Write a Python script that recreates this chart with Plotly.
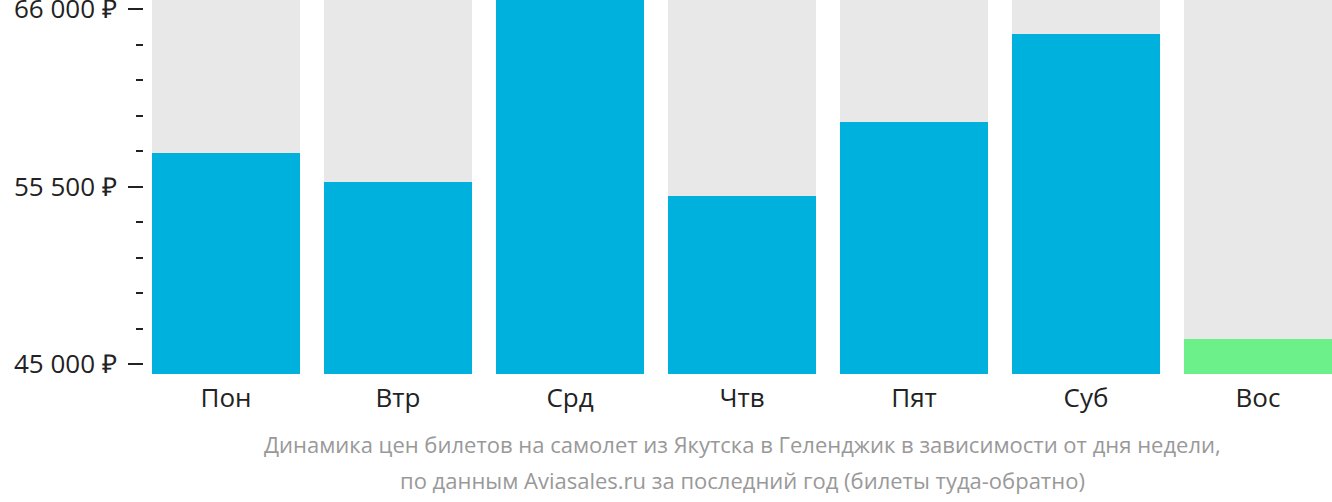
import plotly.graph_objects as go

days = ["Пон", "Втр", "Срд", "Чтв", "Пят", "Суб", "Вос"]
prices = [57490, 55775, 66530, 54950, 59320, 64520, 46495]
y_min = 44427
y_max = 66530
major_ticks = [45000, 55500, 66000]
major_labels = ["45 000 ₽", "55 500 ₽", "66 000 ₽"]
caption_lines = [
    "Динамика цен билетов на самолет из Якутска в Геленджик в зависимости от дня недели,",
    "по данным Aviasales.ru за последний год (билеты туда-обратно)",
]

min_price = min(prices)
colors = ["#6cf08a" if p == min_price else "#00b1dd" for p in prices]

L = 143
plot_w = 1332 - L

fig = go.Figure()
fig.add_trace(go.Bar(x=days, y=[y_max - y_min] * len(days), base=y_min,
                     marker=dict(color="#e8e8e8", line=dict(width=0)),
                     hoverinfo="skip", showlegend=False))
fig.add_trace(go.Bar(x=days, y=[p - y_min for p in prices], base=y_min,
                     marker=dict(color=colors, line=dict(width=0)),
                     showlegend=False))

fig.update_layout(
    barmode="overlay",
    bargap=24 / 172,
    width=1332, height=502,
    margin=dict(l=L, r=0, t=0, b=128, autoexpand=False),
    paper_bgcolor="white", plot_bgcolor="white",
    font=dict(family="Open Sans", color="#222"),
    xaxis=dict(domain=[9 / plot_w, 1], automargin=False,
               range=[-0.5 + 12 / 172, 6.5 - 12 / 172], showgrid=False, zeroline=False,
               showline=False, ticks="", tickfont=dict(size=26, color="#222"),
               ticklabelstandoff=6, fixedrange=True),
    yaxis=dict(range=[y_min, y_max], anchor="free", position=0, automargin=False,
               showgrid=False, zeroline=False, showline=False,
               tickmode="array", tickvals=major_ticks, ticktext=major_labels,
               ticks="outside", ticklen=15, tickwidth=2, tickcolor="#222",
               tickfont=dict(size=26, color="#222"), ticklabelstandoff=6,
               ticklabeloverflow="allow",
               minor=dict(tickmode="linear", tick0=45000, dtick=2100, ticks="outside",
                          ticklen=7, tickwidth=2, tickcolor="#222"),
               fixedrange=True),
)

for i, line in enumerate(caption_lines):
    fig.add_annotation(text=line, xref="paper", yref="paper", x=(742 - L) / plot_w,
                       xanchor="center",
                       y=-(444 - 374) / 374 - i * 36 / 374, yanchor="middle",
                       showarrow=False, font=dict(size=22, color="#999", family="Open Sans"))

fig.write_html("out.html")
